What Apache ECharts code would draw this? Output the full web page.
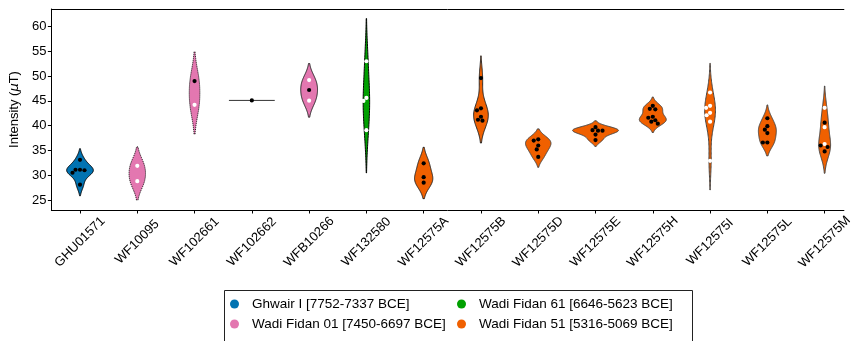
<!DOCTYPE html>
<html><head><meta charset="utf-8">
<script src="https://cdn.jsdelivr.net/npm/echarts@6/dist/echarts.min.js"></script>
<style>html,body{margin:0;padding:0;background:#fff}#c{width:855px;height:341px}</style>
</head><body><div id="c"></div>
<script>
const categories = ['GHU01571','WF10095','WF102661','WF102662','WFB10266','WF132580','WF12575A','WF12575B','WF12575D','WF12575E','WF12575H','WF12575I','WF12575L','WF12575M'];
const blackPoints = [
  [33.1,31.1,30.5,31.1,31.0,28.1],
  [],
  [49.0],
  [45.1],
  [47.2],
  [],
  [32.4,29.6,28.5],
  [49.6,43.5,43.1,41.8,41.2,41.0],
  [37.25,37.0,36.0,35.2,33.7],
  [39.7,39.1,39.0,39.0,38.2,37.1],
  [44.0,43.4,43.3,41.8,41.6,41.1,40.8,40.4],
  [],
  [41.5,39.9,39.2,38.5,36.6,36.6],
  [40.6,36.0,35.7,34.8]
];
const whitePoints = [
  [],
  [31.9,28.8],
  [44.2],
  [],
  [49.2,45.05],
  [53.0,45.6,45.0,39.1],
  [],
  [],
  [],
  [],
  [],
  [46.7,44.0,43.6,42.6,42.1,40.8,32.9],
  [],
  [43.6,39.7,36.3]
];
const groupOfCategory = [0,1,1,1,1,2,3,3,3,3,3,3,3,3];
const groups = ['Ghwair I [7752-7337 BCE]','Wadi Fidan 01 [7450-6697 BCE]','Wadi Fidan 61 [6646-5623 BCE]','Wadi Fidan 51 [5316-5069 BCE]'];
const yTicks = [25,30,35,40,45,50,55,60];
const xTicks = categories.map((c,i)=>i);

// styles (not data)
const groupColors = ['#0173b2','#e377b0','#00a000','#f06000'];
const outlineStyle = {
  0:{stroke:'#000',dash:null}, 1:{stroke:'#000',dash:[1,1]}, 2:{stroke:'#000',dash:[1,1]},
  3:{stroke:'#333',dash:null}, 4:{stroke:'#222',dash:null}, 5:{stroke:'#000',dash:null},
  6:{stroke:'#222',dash:null}, 7:{stroke:'#222',dash:null}
};
function outlineFor(ci){ return outlineStyle[ci] || {stroke:'#444',dash:null}; }

// KDE (scott bandwidth, cut=2, gridsize=100), seaborn-style
function kde(vals){
  const n = vals.length;
  if (n < 2) return null;
  const mean = vals.reduce((a,b)=>a+b,0)/n;
  const sd = Math.sqrt(vals.reduce((a,b)=>a+(b-mean)*(b-mean),0)/(n-1));
  const bw = sd*Math.pow(n,-0.2);
  const lo = Math.min(...vals)-2*bw, hi = Math.max(...vals)+2*bw;
  const sup=[], den=[];
  for (let i=0;i<100;i++){
    const s = lo+(hi-lo)*i/99;
    let d=0;
    for (const v of vals){ const z=(s-v)/bw; d+=Math.exp(-0.5*z*z); }
    d /= n*bw*Math.sqrt(2*Math.PI);
    sup.push(s); den.push(d);
  }
  return {sup, den};
}
const allPoints = categories.map((c,i)=>blackPoints[i].concat(whitePoints[i]));
const kdes = allPoints.map(kde);
let gmax = 0;
kdes.forEach(k=>{ if(k) gmax = Math.max(gmax, Math.max(...k.den)); });

function renderItem(params, api){
  const ci = api.value(0);
  const center = api.coord([ci, 40])[0];
  const band = api.size([1,0])[0];
  const half = 0.4*band;
  const g = groupOfCategory[ci];
  const os = outlineFor(ci);
  const children = [];
  const k = kdes[ci];
  if (!k){
    const y = api.coord([ci, allPoints[ci][0]])[1];
    children.push({type:'line', shape:{x1:center-half,y1:y,x2:center+half,y2:y}, style:{stroke:os.stroke,lineWidth:1}});
  } else {
    const left=[], right=[];
    for (let i=0;i<k.sup.length;i++){
      const y = api.coord([ci, k.sup[i]])[1];
      const w = k.den[i]/gmax*half;
      left.push([center-w,y]); right.push([center+w,y]);
    }
    const pts = left.concat(right.reverse());
    children.push({type:'polygon', shape:{points:pts}, style:{fill:groupColors[g], stroke:os.stroke, lineWidth:1, lineDash:os.dash}});
  }
  // swarm points
  const items = [];
  blackPoints[ci].forEach(v=>items.push({v, fill:'#000'}));
  whitePoints[ci].forEach(v=>items.push({v, fill:'#fff'}));
  items.sort((a,b)=>b.v-a.v);
  const d = 4.2, placed=[];
  items.forEach(it=>{
    const y = api.coord([ci, it.v])[1];
    let off = 0;
    outer: for (let s=0;s<60;s++){
      for (const sign of [-1,1]){
        const o = sign*s*0.5;
        if (placed.every(p=>(p.x-o)*(p.x-o)+(p.y-y)*(p.y-y) >= d*d)){ off=o; break outer; }
      }
    }
    placed.push({x:off,y});
    children.push({type:'circle', shape:{cx:center+off, cy:y, r:2.1}, style:{fill:it.fill}, z2:10});
  });
  return {type:'group', children};
}

const series = groups.map((name,g)=>({
  name, type:'custom', renderItem, clip:false, xAxisIndex:0, yAxisIndex:0,
  itemStyle:{color:groupColors[g]},
  encode:{x:0,y:1},
  data: xTicks.filter(i=>groupOfCategory[i]===g).map(i=>[i,40])
}));

const chart = echarts.init(document.getElementById('c'), null, {renderer:'canvas'});
const font = 'Liberation Sans, Arial, sans-serif';
const legendText = {fontSize:13.5, color:'#000', fontFamily:font, padding:[0,0,0,8], lineHeight:14};
const xMin = -0.5, xMax = 13.336;
chart.setOption({
  animation:false,
  textStyle:{fontFamily:font},
  grid:{left:47, top:9, right:0, bottom:131, show:false},
  xAxis:[
    {type:'value', min:xMin, max:xMax, position:'bottom',
     axisLine:{show:true, onZero:false, lineStyle:{color:'#000',width:1}},
     axisTick:{show:true, length:3.5, lineStyle:{color:'#000'}, customValues:xTicks},
     axisLabel:{rotate:45, align:'center', verticalAlign:'middle', fontSize:13, color:'#000', margin:32, fontFamily:font,
       customValues:xTicks, formatter:(v)=>categories[Math.round(v)]},
     splitLine:{show:false}},
    {type:'value', min:xMin, max:xMax, position:'top',
     axisLine:{show:true, onZero:false, lineStyle:{color:'#000',width:1}},
     axisTick:{show:false}, axisLabel:{show:false}, splitLine:{show:false}}
  ],
  yAxis:{type:'value', min:22.98, max:63.55,
    name:'Intensity ({i|μ}T)', nameLocation:'middle', nameGap:24, nameRotate:90,
    nameTextStyle:{fontSize:13, color:'#000', fontFamily:font, rich:{i:{fontStyle:'italic', fontSize:13, fontFamily:'DejaVu Sans'}}},
    axisLine:{show:true, onZero:false, lineStyle:{color:'#000',width:1}},
    axisTick:{show:true, length:3.5, lineStyle:{color:'#000'}, customValues:yTicks},
    axisLabel:{fontSize:13, color:'#000', margin:5, fontFamily:font, customValues:yTicks},
    splitLine:{show:false}},
  legend:[
    {data:[groups[0],groups[1]], orient:'vertical', left:230, top:297, padding:0, itemGap:6,
     itemWidth:9, itemHeight:9, icon:'circle', textStyle:legendText},
    {data:[groups[2],groups[3]], orient:'vertical', left:457, top:297, padding:0, itemGap:6,
     itemWidth:9, itemHeight:9, icon:'circle', textStyle:legendText}
  ],
  graphic:[{type:'rect', left:222, top:288, shape:{width:468, height:51}, style:{fill:'none', stroke:'#222', lineWidth:1}, silent:true}],
  series
});
</script></body></html>
